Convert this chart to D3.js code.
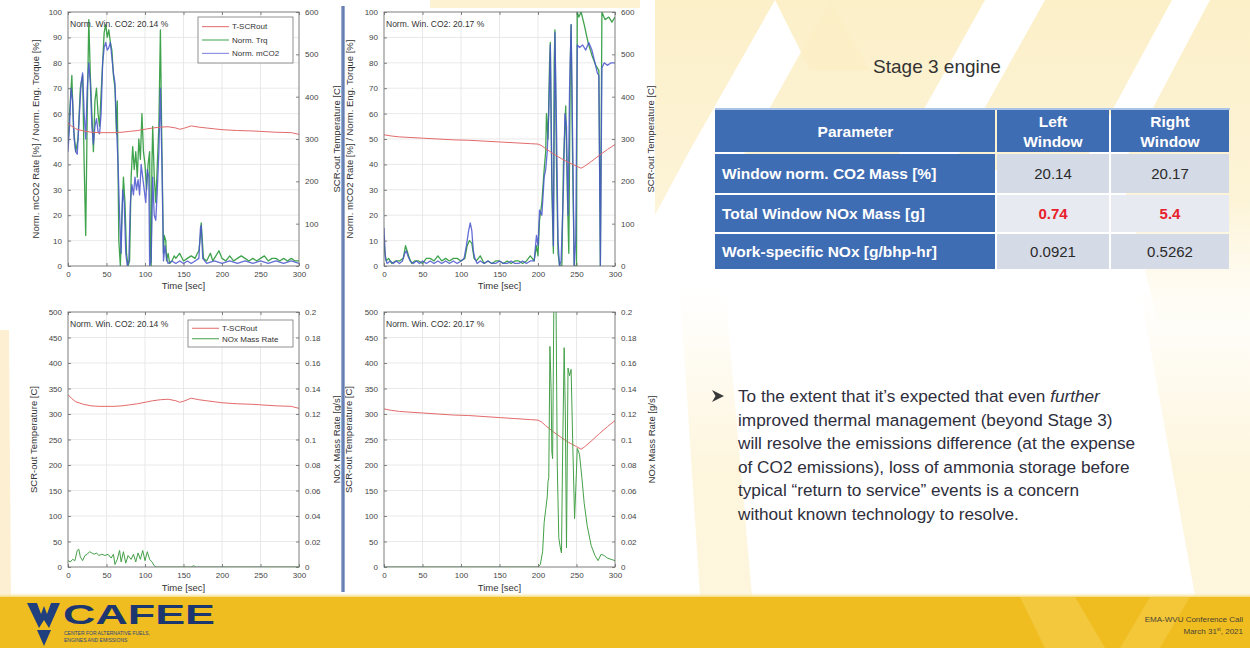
<!DOCTYPE html>
<html>
<head>
<meta charset="utf-8">
<script src="https://cdn.jsdelivr.net/npm/d3@7"></script>
<style>
  html, body { margin: 0; padding: 0; background: #fff; }
  svg { display: block; font-family: "Liberation Sans", Arial, sans-serif; }
</style>
</head>
<body>
<svg id="slide" width="1250" height="648"></svg>
<script>
// ---------- axis ticks ----------
const timeTicks = [0, 50, 100, 150, 200, 250, 300];
const pctTicks = [0, 10, 20, 30, 40, 50, 60, 70, 80, 90, 100];
const tempTicksTop = [0, 100, 200, 300, 400, 500, 600];
const tempTicksBottom = [0, 50, 100, 150, 200, 250, 300, 350, 400, 450, 500];
const noxTicks = [0, 0.02, 0.04, 0.06, 0.08, 0.1, 0.12, 0.14, 0.16, 0.18, 0.2];

// ---------- left window: [time s, value] ----------
const leftTorque = [[0,48],[2,60],[5,75],[7,55],[10,45],[13,50],[16,70],[19,75],[21,40],[23,12],[25,60],[27,97],[29,75],[31,60],[33,45],[35,65],[37,70],[39,60],[41,55],[43,68],[45,80],[47,92],[49,95],[51,90],[53,93],[55,88],[57,85],[59,75],[61,70],[63,52],[64,65],[66,10],[68,0],[70,20],[72,35],[74,25],[76,5],[78,0],[80,2],[82,35],[84,47],[86,38],[88,45],[90,35],[92,50],[94,42],[96,60],[98,45],[100,40],[102,30],[104,40],[106,45],[107,5],[108,0],[109,40],[110,55],[112,35],[114,25],[116,40],[118,55],[120,93],[122,45],[124,5],[125,12],[127,10],[128,2],[130,5],[132,1],[135,2],[138,4],[140,3],[145,5],[150,2],[155,3],[160,4],[165,3],[168,5],[170,6],[172,12],[173,17],[174,12],[176,3],[180,2],[185,5],[188,2],[192,4],[196,6],[200,3],[205,2],[210,4],[215,2],[220,3],[225,4],[230,3],[235,2],[240,3],[245,2],[250,3],[255,4],[260,2],[265,3],[270,3],[275,2],[280,3],[285,2],[290,3],[295,2],[300,2]];
const leftCo2 = [[0,45],[2,55],[4,70],[6,65],[8,50],[10,45],[12,44],[14,55],[17,72],[19,76],[21,60],[23,50],[25,70],[27,80],[29,72],[31,55],[33,48],[35,55],[37,58],[39,53],[41,52],[43,60],[45,80],[47,86],[49,88],[51,85],[53,86],[55,88],[57,82],[59,76],[61,72],[63,55],[65,40],[67,20],[69,5],[71,30],[73,25],[75,5],[77,0],[79,2],[81,25],[83,32],[85,28],[87,35],[89,30],[91,34],[93,28],[95,40],[97,35],[99,30],[101,25],[103,38],[105,35],[106,0],[108,2],[110,35],[112,20],[114,18],[116,30],[118,45],[120,70],[122,40],[124,2],[126,8],[128,3],[130,1],[135,2],[140,1],[145,2],[150,1],[155,2],[160,1],[165,2],[170,3],[172,15],[173,16],[175,3],[180,1],[190,2],[200,1],[210,2],[220,1],[230,2],[240,1],[250,2],[260,1],[270,2],[280,1],[290,2],[300,1]];
const leftTemp = [[0,338],[5,330],[10,324],[20,319],[30,316],[40,315],[60,315],[70,316],[80,318],[90,320],[100,323],[110,326],[120,328],[130,329],[140,326],[145,323],[150,325],[160,331],[170,328],[180,326],[190,324],[200,322],[220,320],[240,319],[250,318],[270,316],[290,315],[300,311]];
const leftNox = [[0,0.005],[3,0.004],[6,0.006],[9,0.005],[12,0.013],[14,0.014],[16,0.008],[19,0.005],[22,0.009],[25,0.010],[28,0.012],[31,0.011],[34,0.010],[37,0.011],[40,0.009],[44,0.010],[48,0.009],[52,0.010],[56,0.007],[59,0.010],[61,0.002],[64,0.006],[67,0.013],[69,0.004],[72,0.012],[75,0.003],[78,0.009],[82,0.006],[85,0.010],[88,0.004],[91,0.011],[94,0.006],[97,0.013],[100,0.005],[103,0.012],[106,0.006],[109,0.004],[112,0.001],[115,0],[160,0],[163,0.001],[166,0],[300,0]];

// ---------- right window: [time s, value] ----------
const rightTorque = [[0,12],[1,5],[3,2],[6,3],[10,1],[15,2],[20,2],[25,3],[28,8],[30,6],[33,3],[36,1],[40,2],[45,2],[50,1],[55,3],[60,3],[65,2],[70,4],[75,2],[80,3],[85,2],[90,3],[95,3],[100,2],[105,3],[108,8],[111,10],[114,9],[117,3],[120,2],[125,4],[130,1],[135,2],[140,1],[145,2],[150,2],[155,1],[160,2],[165,1],[170,2],[175,2],[180,1],[185,2],[190,4],[195,2],[198,8],[200,4],[202,18],[205,25],[208,38],[210,45],[211,60],[213,50],[215,80],[216,88],[218,30],[220,5],[221,80],[222,93],[224,40],[226,5],[228,0],[231,0],[233,40],[236,63],[238,30],[240,5],[242,80],[243,95],[245,40],[247,0],[250,0],[251,100],[253,98],[256,100],[260,95],[265,88],[270,83],[275,79],[279,77],[280,40],[281,0],[282,50],[283,100],[287,97],[292,98],[296,96],[300,98]];
const rightCo2 = [[0,15],[1,8],[2,3],[4,1],[8,2],[12,1],[16,2],[20,1],[24,2],[27,5],[29,6],[31,4],[34,2],[38,1],[42,2],[46,1],[50,2],[55,1],[60,2],[65,1],[70,2],[75,1],[80,2],[85,1],[90,2],[95,1],[100,2],[104,3],[107,8],[110,14],[112,17],[114,14],[116,6],[118,3],[121,1],[125,2],[130,1],[135,2],[140,1],[145,1],[150,2],[155,1],[160,1],[165,2],[170,1],[175,1],[180,2],[185,1],[190,2],[195,2],[198,12],[200,8],[202,22],[205,20],[208,35],[210,38],[212,45],[214,60],[216,87],[218,35],[220,8],[222,92],[224,55],[226,10],[228,0],[230,2],[233,30],[235,60],[237,55],[239,20],[241,70],[243,95],[245,50],[247,0],[249,10],[251,87],[254,86],[258,87],[262,85],[266,88],[270,85],[274,80],[277,76],[279,75],[281,0],[283,78],[286,80],[290,79],[295,80],[300,80]];
const rightTemp = [[0,310],[10,307],[20,305],[30,304],[50,302],[70,300],[90,298],[110,297],[130,295],[150,293],[170,291],[190,289],[200,288],[205,284],[210,277],[215,271],[220,265],[230,254],[240,244],[250,236],[256,231],[260,235],[270,248],[280,262],[290,275],[300,287]];
const rightNox = [[0,0],[200,0],[203,0.002],[206,0.012],[208,0.035],[210,0.045],[212,0.055],[213,0.067],[214,0.07],[215.5,0.173],[217,0.14],[218,0.09],[219,0.085],[220.5,0.2],[222,0.21],[223.5,0.2],[225,0.08],[227,0.023],[229,0.015],[230.5,0.011],[232,0.09],[234,0.172],[235.5,0.12],[237,0.015],[239,0.156],[241,0.15],[243,0.155],[245,0.1],[247.5,0.038],[249,0.06],[251,0.093],[253,0.09],[254,0.088],[257,0.07],[260,0.05],[264,0.032],[269,0.017],[274,0.009],[278,0.005],[282,0.01],[286,0.009],[290,0.007],[295,0.006],[300,0.005]];

// ---------- window summary ----------
const leftWinCo2 = "20.14";
const rightWinCo2 = "20.17";
const tableHeader = ["Parameter", "Left|Window", "Right|Window"];
const tableParams = ["Window norm. CO2 Mass [%]", "Total Window NOx Mass [g]", "Work-specific NOx [g/bhp-hr]"];
const leftWindowVals = ["20.14", "0.74", "0.0921"];
const rightWindowVals = ["20.17", "5.4", "0.5262"];

const bulletLines = [
  ["To the extent that it\u2019s expected that even ", "further"],
  ["improved thermal management (beyond Stage 3)"],
  ["will resolve the emissions difference (at the expense"],
  ["of CO2 emissions), loss of ammonia storage before"],
  ["typical \u201creturn to service\u201d events is a concern"],
  ["without known technology to resolve."]
];

// ---------- colours ----------
const RED = "#e36a6a", GREEN = "#3fa34d", BLUE = "#4a55cc", NOXGREEN = "#44a048";

const svg = d3.select("#slide");
const defs = svg.append("defs");

// ---------- slide background: faint chevron bands fading downwards ----------
svg.append("rect").attr("width", 1250).attr("height", 648).attr("fill", "#ffffff");
const fade = defs.append("linearGradient").attr("id", "bandFade")
  .attr("gradientUnits", "userSpaceOnUse").attr("x1", 0).attr("y1", 0).attr("x2", 0).attr("y2", 330);
fade.append("stop").attr("offset", 0).attr("stop-color", "#fcefc6").attr("stop-opacity", 0.95);
fade.append("stop").attr("offset", 0.6).attr("stop-color", "#fcefc6").attr("stop-opacity", 0.7);
fade.append("stop").attr("offset", 1).attr("stop-color", "#fcefc6").attr("stop-opacity", 0);
const riseFade = defs.append("linearGradient").attr("id", "riseFade")
  .attr("gradientUnits", "userSpaceOnUse").attr("x1", 0).attr("y1", 290).attr("x2", 0).attr("y2", 470);
riseFade.append("stop").attr("offset", 0).attr("stop-color", "#fcefc6").attr("stop-opacity", 0);
riseFade.append("stop").attr("offset", 1).attr("stop-color", "#fcefc6").attr("stop-opacity", 0.6);

const bands = [
  [[655,0],[775,0],[690,150],[655,215]],
  [[830,0],[985,0],[890,170],[735,170]],
  [[1045,0],[1172,0],[1080,170],[950,170]],
  [[1210,0],[1250,0],[1250,330],[1160,330],[1120,170]],
  [[775,0],[830,0],[870,70],[810,70]]
];
svg.append("g").selectAll("polygon").data(bands).join("polygon")
  .attr("points", d => d.map(p => p.join(",")).join(" "))
  .attr("fill", "url(#bandFade)");
svg.append("polygon").attr("points", "1140,290 1250,290 1250,596 1195,596").attr("fill", "url(#riseFade)");
svg.append("polygon").attr("points", "680,290 725,290 752,596 700,596").attr("fill", "url(#riseFade)");
svg.append("rect").attr("x", 430).attr("y", 0).attr("width", 210).attr("height", 8).attr("fill", "#fcefc6").attr("opacity", 0.8);
svg.append("polygon").attr("points", "0,330 9,330 11,596 0,596").attr("fill", "#fbe6b4").attr("opacity", 0.6);

// ---------- chart panels ----------
function fmtNum(d) { return d === 0 ? "0" : String(+d.toFixed(2)); }

const panels = [
  { id: "tl", x0: 68, x1: 299, y0: 12, y1: 266,
    left: { domain: [0, 100], ticks: pctTicks }, right: { domain: [0, 600], ticks: tempTicksTop },
    leftTitle: "Norm. mCO2 Rate [%] / Norm. Eng. Torque [%]", leftTitleX: 36,
    rightTitle: "SCR-out Temperature [C]", rightTitleX: 337, xTitleY: 289,
    note: "Norm. Win. CO2: " + leftWinCo2 + " %",
    series: [ { data: leftTorque, axis: "left", color: GREEN, w: 1.3 },
              { data: leftCo2, axis: "left", color: BLUE, w: 1.3, op: 0.85 },
              { data: leftTemp, axis: "right", color: RED, w: 1 } ],
    legend: { x: 198, y: 17, w: 95, h: 46, items: [["T-SCRout", RED], ["Norm. Trq", GREEN], ["Norm. mCO2", "#7b7be0"]] } },
  { id: "tr", x0: 384, x1: 615, y0: 12, y1: 266,
    left: { domain: [0, 100], ticks: pctTicks }, right: { domain: [0, 600], ticks: tempTicksTop },
    leftTitle: "Norm. mCO2 Rate [%] / Norm. Eng. Torque [%]", leftTitleX: 350,
    rightTitle: "SCR-out Temperature [C]", rightTitleX: 651, xTitleY: 289,
    note: "Norm. Win. CO2: " + rightWinCo2 + " %",
    series: [ { data: rightTorque, axis: "left", color: GREEN, w: 1.3 },
              { data: rightCo2, axis: "left", color: BLUE, w: 1.3, op: 0.85 },
              { data: rightTemp, axis: "right", color: RED, w: 1 } ] },
  { id: "bl", x0: 68, x1: 299, y0: 312, y1: 567,
    left: { domain: [0, 500], ticks: tempTicksBottom }, right: { domain: [0, 0.2], ticks: noxTicks },
    leftTitle: "SCR-out Temperature [C]", leftTitleX: 34,
    rightTitle: "NOx Mass Rate [g/s]", rightTitleX: 337, xTitleY: 591,
    note: "Norm. Win. CO2: " + leftWinCo2 + " %",
    series: [ { data: leftTemp, axis: "left", color: RED, w: 1 },
              { data: leftNox, axis: "right", color: NOXGREEN, w: 1 } ],
    legend: { x: 188, y: 320, w: 105, h: 27, items: [["T-SCRout", RED], ["NOx Mass Rate", NOXGREEN]] } },
  { id: "br", x0: 384, x1: 615, y0: 312, y1: 567,
    left: { domain: [0, 500], ticks: tempTicksBottom }, right: { domain: [0, 0.2], ticks: noxTicks },
    leftTitle: "SCR-out Temperature [C]", leftTitleX: 349,
    rightTitle: "NOx Mass Rate [g/s]", rightTitleX: 652, xTitleY: 591,
    note: "Norm. Win. CO2: " + rightWinCo2 + " %",
    series: [ { data: rightTemp, axis: "left", color: RED, w: 1 },
              { data: rightNox, axis: "right", color: NOXGREEN, w: 1 } ] }
];

function styleAxis(sel) {
  sel.select(".domain").remove();
  sel.selectAll(".tick line").attr("stroke", "#666").attr("stroke-width", 0.8);
  sel.selectAll(".tick text").attr("fill", "#444").attr("font-size", 8)
     .attr("font-family", "'Liberation Sans', Arial, sans-serif");
}

function drawPanel(p) {
  const g = svg.append("g").attr("class", "panel-" + p.id);
  const x = d3.scaleLinear([0, 300], [p.x0, p.x1]);
  const yl = d3.scaleLinear(p.left.domain, [p.y1, p.y0]);
  const yr = d3.scaleLinear(p.right.domain, [p.y1, p.y0]);
  const w = p.x1 - p.x0, h = p.y1 - p.y0;

  g.append("rect").attr("x", p.x0).attr("y", p.y0).attr("width", w).attr("height", h).attr("fill", "#fff");

  // grid
  g.append("g").selectAll("line").data(timeTicks.slice(1, -1)).join("line")
    .attr("x1", d => x(d)).attr("x2", d => x(d)).attr("y1", p.y0).attr("y2", p.y1)
    .attr("stroke", "#e3e3e3").attr("stroke-width", 0.8);
  g.append("g").selectAll("line").data(p.left.ticks.slice(1, -1)).join("line")
    .attr("x1", p.x0).attr("x2", p.x1).attr("y1", d => yl(d)).attr("y2", d => yl(d))
    .attr("stroke", "#e3e3e3").attr("stroke-width", 0.8);

  // traces
  const cid = "clip-" + p.id;
  defs.append("clipPath").attr("id", cid).append("rect")
    .attr("x", p.x0).attr("y", p.y0).attr("width", w).attr("height", h);
  const plot = g.append("g").attr("clip-path", `url(#${cid})`);
  p.series.forEach(s => {
    const ys = s.axis === "left" ? yl : yr;
    plot.append("path").datum(s.data)
      .attr("d", d3.line().x(d => x(d[0])).y(d => ys(d[1])))
      .attr("fill", "none").attr("stroke", s.color).attr("stroke-width", s.w)
      .attr("stroke-opacity", s.op || 1).attr("stroke-linejoin", "round");
  });

  // axes
  g.append("g").attr("transform", `translate(0,${p.y1})`)
    .call(d3.axisBottom(x).tickValues(timeTicks).tickSizeInner(-3).tickSizeOuter(0).tickPadding(5))
    .call(styleAxis);
  g.append("g").attr("transform", `translate(0,${p.y0})`)
    .call(d3.axisTop(x).tickValues(timeTicks).tickSizeInner(-3).tickSizeOuter(0).tickFormat(""))
    .call(styleAxis);
  g.append("g").attr("transform", `translate(${p.x0},0)`)
    .call(d3.axisLeft(yl).tickValues(p.left.ticks).tickSizeInner(-3).tickSizeOuter(0).tickPadding(6).tickFormat(fmtNum))
    .call(styleAxis);
  g.append("g").attr("transform", `translate(${p.x1},0)`)
    .call(d3.axisRight(yr).tickValues(p.right.ticks).tickSizeInner(-3).tickSizeOuter(0).tickPadding(6).tickFormat(fmtNum))
    .call(styleAxis);

  g.append("rect").attr("x", p.x0).attr("y", p.y0).attr("width", w).attr("height", h)
    .attr("fill", "none").attr("stroke", "#707070").attr("stroke-width", 0.9);

  // window note
  g.append("text").attr("x", p.x0 + 2).attr("y", p.y0 + 15)
    .attr("font-size", 8.5).attr("fill", "#333").text(p.note);

  // legend
  if (p.legend) {
    const L = p.legend;
    const lg = g.append("g");
    lg.append("rect").attr("x", L.x).attr("y", L.y).attr("width", L.w).attr("height", L.h)
      .attr("fill", "#fff").attr("stroke", "#777").attr("stroke-width", 0.8);
    const step = (L.h - 6) / L.items.length;
    L.items.forEach((it, i) => {
      const cy = L.y + 3 + step * (i + 0.5);
      lg.append("line").attr("x1", L.x + 4).attr("x2", L.x + 31).attr("y1", cy).attr("y2", cy)
        .attr("stroke", it[1]).attr("stroke-width", 1);
      lg.append("text").attr("x", L.x + 34).attr("y", cy).attr("dy", "0.35em")
        .attr("font-size", 8).attr("fill", "#333").text(it[0]);
    });
  }

  // titles
  g.append("text").attr("x", (p.x0 + p.x1) / 2).attr("y", p.xTitleY).attr("text-anchor", "middle")
    .attr("font-size", 9.5).attr("fill", "#333").text("Time [sec]");
  g.append("text").attr("transform", `translate(${p.leftTitleX},${(p.y0 + p.y1) / 2}) rotate(-90)`)
    .attr("text-anchor", "middle").attr("dy", "0.35em").attr("font-size", 9.5).attr("fill", "#333")
    .text(p.leftTitle);
  g.append("text").attr("transform", `translate(${p.rightTitleX},${(p.y0 + p.y1) / 2}) rotate(-90)`)
    .attr("text-anchor", "middle").attr("dy", "0.35em").attr("font-size", 9.5).attr("fill", "#333")
    .text(p.rightTitle);
}
panels.forEach(drawPanel);

// divider between the two windows
svg.append("rect").attr("x", 341).attr("y", 6).attr("width", 4).attr("height", 586).attr("fill", "#9aabd0");
svg.append("rect").attr("x", 342.3).attr("y", 6).attr("width", 1.6).attr("height", 586).attr("fill", "#5f78ac");

// ---------- right-hand side: title and table ----------
svg.append("text").attr("x", 937).attr("y", 73).attr("text-anchor", "middle")
  .attr("font-size", 19).attr("fill", "#333").text("Stage 3 engine");

const colX = [715, 996, 1110, 1230];
const rowY = [110, 153, 194, 233, 270];
const headBlue = "#3f6db4";
const bandFill = ["#d5dae7", "#e8eaf2", "#d5dae7"];
const tbl = svg.append("g");
tbl.append("rect").attr("x", colX[0]).attr("y", rowY[0] - 2).attr("width", colX[3] - colX[0]).attr("height", 2).attr("fill", "#a9c3e8");

tableHeader.forEach((hd, c) => {
  tbl.append("rect").attr("x", colX[c] + (c ? 1 : 0)).attr("y", rowY[0])
    .attr("width", colX[c + 1] - colX[c] - (c ? 1 : 0) - 1).attr("height", rowY[1] - rowY[0] - 1).attr("fill", headBlue);
  const parts = hd.split("|");
  const cx = (colX[c] + colX[c + 1]) / 2;
  const cy = (rowY[0] + rowY[1]) / 2;
  parts.forEach((t, i) => {
    tbl.append("text").attr("x", cx).attr("y", cy + (i - (parts.length - 1) / 2) * 20)
      .attr("dy", "0.35em").attr("text-anchor", "middle")
      .attr("font-size", 15.5).attr("font-weight", "bold").attr("fill", "#fff").text(t);
  });
});

tableParams.forEach((param, r) => {
  const y0 = rowY[r + 1] + 1, y1 = rowY[r + 2] - 1;
  const cy = (y0 + y1) / 2;
  tbl.append("rect").attr("x", colX[0]).attr("y", y0).attr("width", colX[1] - colX[0] - 1).attr("height", y1 - y0).attr("fill", headBlue);
  const pt = tbl.append("text").attr("x", colX[0] + 7).attr("y", cy).attr("dy", "0.35em")
    .attr("font-size", 15.5).attr("font-weight", "bold").attr("fill", "#fff");
  if (param.endsWith("[g]")) {
    pt.append("tspan").text(param.slice(0, -2));
    pt.append("tspan").attr("text-decoration", "underline").text("g");
    pt.append("tspan").text("]");
  } else {
    pt.text(param);
  }
  const isMass = param.startsWith("Total Window NOx");
  [leftWindowVals[r], rightWindowVals[r]].forEach((v, k) => {
    const c = k + 1;
    tbl.append("rect").attr("x", colX[c] + 1).attr("y", y0).attr("width", colX[c + 1] - colX[c] - 2).attr("height", y1 - y0)
      .attr("fill", bandFill[r]);
    tbl.append("text").attr("x", (colX[c] + colX[c + 1]) / 2).attr("y", cy).attr("dy", "0.35em")
      .attr("text-anchor", "middle").attr("font-size", 15)
      .attr("font-weight", isMass ? "bold" : "normal")
      .attr("fill", isMass ? "#e8202a" : "#2a2a2a").text(v);
  });
});

// ---------- bullet text ----------
const bulletTop = 396, lineStep = 23.5;
svg.append("path")
  .attr("d", `M712,${bulletTop - 6} L724,${bulletTop} L712,${bulletTop + 6} L715.5,${bulletTop} Z`)
  .attr("fill", "#3a3a3a");
const bt = svg.append("text").attr("font-size", 17.2).attr("fill", "#2e2e3c");
bulletLines.forEach((parts, i) => {
  bt.append("tspan").attr("x", 738).attr("y", bulletTop + 6 + i * lineStep).text(parts[0]);
  if (parts[1]) bt.append("tspan").attr("font-style", "italic").text(parts[1]);
});

// ---------- footer ----------
const fg = defs.append("linearGradient").attr("id", "footerEdge").attr("x1", 0).attr("y1", 0).attr("x2", 0).attr("y2", 1);
fg.append("stop").attr("offset", 0).attr("stop-color", "#ffffff").attr("stop-opacity", 0);
fg.append("stop").attr("offset", 1).attr("stop-color", "#f2c73a");
svg.append("rect").attr("x", 0).attr("y", 592).attr("width", 1250).attr("height", 6).attr("fill", "url(#footerEdge)");
svg.append("rect").attr("x", 0).attr("y", 597).attr("width", 1250).attr("height", 51).attr("fill", "#efbd1f");
svg.append("polygon").attr("points", "1020,597 1075,597 1105,648 1045,648").attr("fill", "#f5cd4a").attr("opacity", 0.7);
svg.append("polygon").attr("points", "1150,597 1190,597 1160,648 1120,648").attr("fill", "#f5cd4a").attr("opacity", 0.6);

// flying WV mark
svg.append("path")
  .attr("d", "M27,603 L37,603 L41,614 L44,606 L47,614 L51,603 L60,603 L49,628 L44,620 L39,628 Z")
  .attr("fill", "#1f3f7f");
svg.append("path")
  .attr("d", "M37,630 L51,630 L44,646 Z").attr("fill", "#1f3f7f");
svg.append("text").attr("x", 63).attr("y", 624).attr("font-size", 28).attr("font-weight", "bold")
  .attr("fill", "#1c3670").attr("textLength", 152).attr("lengthAdjust", "spacingAndGlyphs").text("CAFEE");
svg.append("text").attr("x", 64).attr("y", 635).attr("font-size", 5).attr("fill", "#2a4480")
  .text("CENTER FOR ALTERNATIVE FUELS,");
svg.append("text").attr("x", 64).attr("y", 642).attr("font-size", 5).attr("fill", "#2a4480")
  .text("ENGINES AND EMISSIONS");

const ft = svg.append("text").attr("text-anchor", "end").attr("font-size", 8).attr("fill", "#4a4436");
ft.append("tspan").attr("x", 1243).attr("y", 622).text("EMA-WVU Conference Call");
const d2 = svg.append("text").attr("text-anchor", "end").attr("font-size", 8).attr("fill", "#4a4436")
  .attr("x", 1243).attr("y", 634);
d2.append("tspan").text("March 31");
d2.append("tspan").attr("font-size", 5).attr("dy", -3).text("st");
d2.append("tspan").attr("dy", 3).text(", 2021");
</script>
</body>
</html>
